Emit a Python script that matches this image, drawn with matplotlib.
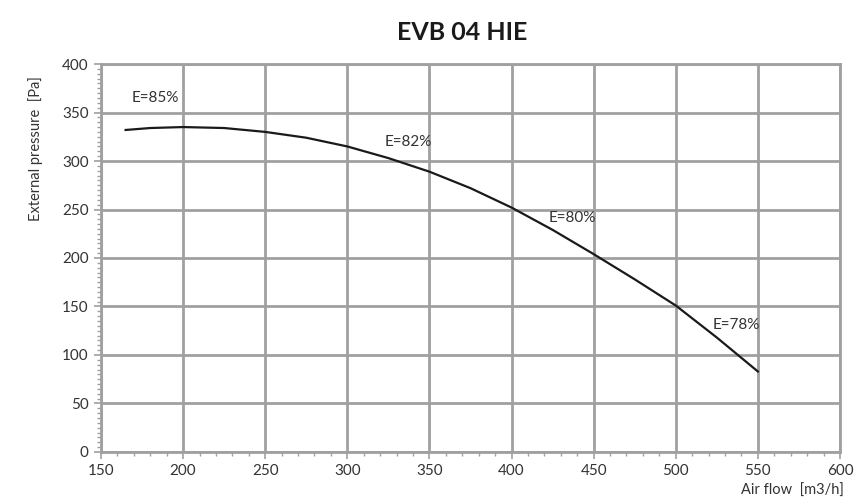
import matplotlib
matplotlib.use("Agg")
import matplotlib.pyplot as plt
from matplotlib.ticker import MultipleLocator

plt.rcParams['font.family'] = ['Lato', 'DejaVu Sans']

title = "EVB 04 HIE"
airflow = [165, 180, 200, 225, 250, 275, 300, 325, 350, 375, 400, 425, 450, 475, 500, 525, 550]
pressure = [332, 334, 335, 334, 330, 324, 315, 303, 289, 272, 252, 229, 204, 178, 151, 118, 83]
eff_labels = ["E=85%", "E=82%", "E=80%", "E=78%"]
eff_x = [183, 337, 437, 537]
eff_y = [365, 320, 241, 131]
x_ticks = [150, 200, 250, 300, 350, 400, 450, 500, 550, 600]
y_ticks = [0, 50, 100, 150, 200, 250, 300, 350, 400]

fig = plt.figure(figsize=(8.58, 5.04), dpi=100)
ax = fig.add_axes([0.1177, 0.1032, 0.979 - 0.1177, 0.873 - 0.1032])

grid_c = "#a0a0a0"
ax.plot(airflow, pressure, color="#1a1a1a", lw=1.6, zorder=3)
for t, x, y in zip(eff_labels, eff_x, eff_y):
    ax.text(x, y, t, ha="center", va="center", fontsize=11, color="#333333")

ax.set_xlim(150, 600)
ax.set_ylim(0, 400)
ax.set_xticks(x_ticks)
ax.set_yticks(y_ticks)
ax.xaxis.set_minor_locator(MultipleLocator(10))
ax.yaxis.set_minor_locator(MultipleLocator(5))
ax.grid(True, which="major", color=grid_c, lw=2)
ax.set_axisbelow(True)
for s in ax.spines.values():
    s.set_color(grid_c)
    s.set_linewidth(2)
ax.tick_params(which="major", length=5, width=1.2, color=grid_c, labelsize=11,
               labelcolor="#333333", pad=4)
ax.tick_params(which="minor", length=3, width=1, color=grid_c)

fig.text(0.539, 0.935, title, ha="center", va="center", fontsize=18, fontweight="bold",
         color="#1a1a1a")
fig.text(0.984, 0.013, "Air flow  [m3/h]", ha="right", va="bottom", fontsize=10.5,
         color="#333333")
fig.text(0.041, 0.705, "External pressure  [Pa]", ha="center", va="center", rotation=90,
         fontsize=10.5, color="#333333")

fig.savefig("out.png", dpi=100)
